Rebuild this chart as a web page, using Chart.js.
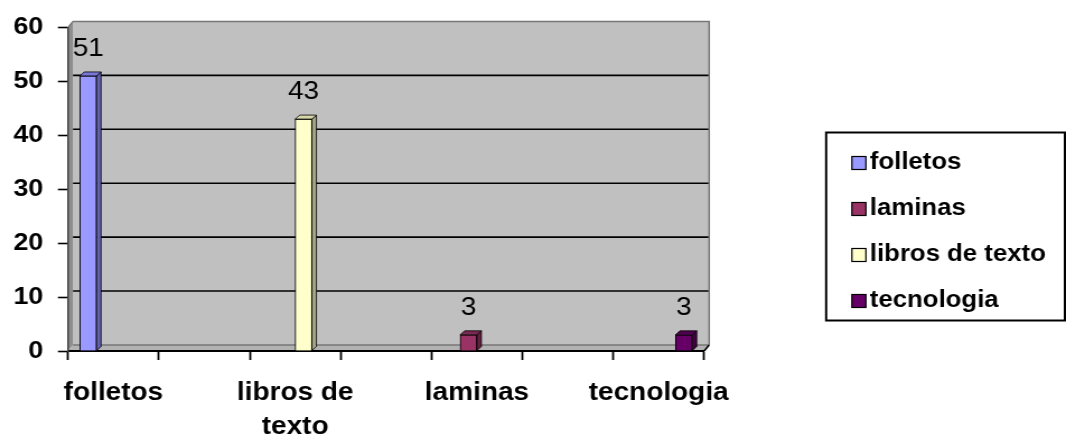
<!DOCTYPE html>
<html>
<head>
<meta charset="utf-8">
<script src="https://cdn.jsdelivr.net/npm/chart.js@4/dist/chart.umd.min.js"></script>
<style>
  html, body { margin: 0; padding: 0; background: #fff; }
</style>
</head>
<body>
<canvas id="mycanvas" width="952" height="437" style="width:1066px;height:437px;display:block"></canvas>
<script>
// categories on the x axis
var categories = ['folletos', 'libros de texto', 'laminas', 'tecnologia'];
// one series per material, each only has a value at its own category
var seriesNames = ['folletos', 'laminas', 'libros de texto', 'tecnologia'];
var folletos = [51, null, null, null];
var laminas = [null, null, 3, null];
var librosDeTexto = [null, 43, null, null];
var tecnologia = [null, null, null, 3];
var yTicks = [0, 10, 20, 30, 40, 50, 60];

var frontColors = ['#9999FF', '#993366', '#FFFFCC', '#660066'];
var sideColors = ['#6262AE', '#66203F', '#A8A888', '#420042'];
var topColors = ['#7878D8', '#7C2852', '#D6D6AA', '#520052'];

var fontFamily = "'Liberation Sans', Arial, sans-serif";
Chart.defaults.font.family = fontFamily;
Chart.defaults.color = '#000';

var WALL_DX = 4.5, WALL_DY = 6;  // depth of the back wall
var BAR_D = 4;                   // depth of each bar

function wrapLabel(s) {
  if (s.length <= 10) return s;
  var k = s.lastIndexOf(' ');
  return [s.slice(0, k), s.slice(k + 1)];
}

// gray 3D wall, floor and gridlines behind everything
var wallPlugin = {
  id: 'wall',
  beforeDraw: function(chart) {
    var a = chart.chartArea, c = chart.ctx, ys = chart.scales.y;
    var L = a.left, R = a.right, T = a.top, B = a.bottom;
    c.save();
    c.fillStyle = '#C0C0C0';
    c.fillRect(L + WALL_DX, T - WALL_DY, R - L, B - T);
    // left side wall
    c.fillStyle = '#8E8E8E';
    c.beginPath();
    c.moveTo(L, T); c.lineTo(L + WALL_DX, T - WALL_DY);
    c.lineTo(L + WALL_DX, B - WALL_DY); c.lineTo(L, B);
    c.closePath(); c.fill();
    // floor
    c.fillStyle = '#B2B2B2';
    c.beginPath();
    c.moveTo(L, B); c.lineTo(L + WALL_DX, B - WALL_DY);
    c.lineTo(R + WALL_DX, B - WALL_DY); c.lineTo(R, B);
    c.closePath(); c.fill();
    // gridlines on the back wall
    c.strokeStyle = '#000';
    c.lineWidth = 1.6;
    yTicks.forEach(function(v) {
      if (v === 0 || v === 60) return;
      var y = ys.getPixelForValue(v) - WALL_DY;
      c.beginPath();
      c.moveTo(L + WALL_DX, y); c.lineTo(R + WALL_DX, y);
      c.stroke();
    });
    // wall edges
    c.strokeStyle = '#777';
    c.lineWidth = 1.5;
    c.beginPath();
    c.moveTo(L, T); c.lineTo(L + WALL_DX, T - WALL_DY);
    c.lineTo(R + WALL_DX, T - WALL_DY); c.lineTo(R + WALL_DX, B - WALL_DY);
    c.stroke();
    c.beginPath();
    c.moveTo(L + WALL_DX, B - WALL_DY); c.lineTo(R + WALL_DX, B - WALL_DY);
    c.stroke();
    c.strokeStyle = '#000';
    c.beginPath();
    c.moveTo(R, B); c.lineTo(R + WALL_DX, B - WALL_DY);
    c.stroke();
    c.restore();
  }
};

// side / top faces of the columns and the value labels
var barPlugin = {
  id: 'bars3d',
  afterDatasetsDraw: function(chart) {
    var c = chart.ctx;
    c.save();
    chart.data.datasets.forEach(function(ds, i) {
      var meta = chart.getDatasetMeta(i);
      meta.data.forEach(function(el, j) {
        if (ds.data[j] === null) return;
        var p = el.getProps(['x', 'y', 'base', 'width'], true);
        var xl = p.x - p.width / 2, xr = p.x + p.width / 2;
        c.lineWidth = 0.8;
        c.strokeStyle = '#000';
        c.fillStyle = sideColors[i];
        c.beginPath();
        c.moveTo(xr, p.y); c.lineTo(xr + BAR_D, p.y - BAR_D);
        c.lineTo(xr + BAR_D, p.base - BAR_D); c.lineTo(xr, p.base);
        c.closePath(); c.fill(); c.stroke();
        c.fillStyle = topColors[i];
        c.beginPath();
        c.moveTo(xl, p.y); c.lineTo(xl + BAR_D, p.y - BAR_D);
        c.lineTo(xr + BAR_D, p.y - BAR_D); c.lineTo(xr, p.y);
        c.closePath(); c.fill(); c.stroke();
        c.fillStyle = '#000';
        c.font = '25px ' + fontFamily;
        c.textAlign = 'center';
        c.textBaseline = 'alphabetic';
        c.fillText(String(ds.data[j]), p.x, p.y - 20);
      });
    });
    c.restore();
  }
};

// frame round the legend, and its colour squares drawn tight to the text
var legendBoxPlugin = {
  id: 'legendBox',
  afterDraw: function(chart) {
    var lg = chart.legend, hb = lg.legendHitBoxes;
    if (!hb || !hb.length) return;
    var c = chart.ctx;
    c.save();
    c.lineWidth = 1.2;
    c.strokeStyle = '#000';
    hb.forEach(function(h, i) {
      var y = h.top + (h.height - 13) / 2;
      c.fillStyle = frontColors[i];
      c.fillRect(h.left, y, 12.5, 13);
      c.strokeRect(h.left, y, 12.5, 13);
    });
    var top = hb[0].top - 19;
    var last = hb[hb.length - 1];
    var bottom = last.top + last.height + 8;
    c.lineWidth = 2;
    c.strokeRect(lg.left, top, chart.width - 1 - lg.left, bottom - top);
    c.restore();
  }
};

var seriesData = [folletos, laminas, librosDeTexto, tecnologia];
var datasets = seriesNames.map(function(name, i) {
  return {
    label: name,
    data: seriesData[i],
    backgroundColor: frontColors[i],
    borderColor: '#000',
    borderWidth: 1,
    barThickness: 15
  };
});

// x positions: every category index, plus tick marks a quarter step either side
var xTickValues = [];
categories.forEach(function(c, i) { xTickValues.push(i - 0.25, i, i + 0.25); });

var ctx = document.getElementById('mycanvas');
var chart = new Chart(ctx, {
  type: 'bar',
  data: {
    labels: categories.map(function(c, i) { return i; }),
    datasets: datasets
  },
  plugins: [wallPlugin, barPlugin, legendBoxPlugin],
  options: {
    responsive: false,
    animation: false,
    devicePixelRatio: 1,
    layout: { padding: { top: 27, right: 8, bottom: 0, left: 0 } },
    plugins: {
      tooltip: { enabled: false },
      legend: {
        position: 'right',
        align: 'center',
        maxWidth: 320,
        labels: {
          boxWidth: 4.5,
          boxHeight: 13,
          padding: 23,
          color: '#000',
          font: { size: 23, weight: 'bold' },
          generateLabels: function(chart) {
            var items = Chart.defaults.plugins.legend.labels.generateLabels(chart);
            items.forEach(function(it) {
              it.fillStyle = 'rgba(0,0,0,0)';
              it.strokeStyle = 'rgba(0,0,0,0)';
              it.lineWidth = 0;
            });
            return items;
          }
        }
      }
    },
    scales: {
      x: {
        type: 'linear',
        min: -0.25,
        max: 3.25,
        offset: false,
        afterBuildTicks: function(s) {
          s.ticks = xTickValues.map(function(v) { return { value: v }; });
        },
        afterFit: function(s) { s.height = 86; },
        grid: {
          offset: false,
          drawOnChartArea: false,
          tickLength: 9,
          tickWidth: 1.8,
          tickColor: function(c) {
            if (!c.tick) return '#000';
            return Number.isInteger(c.tick.value) ? 'rgba(0,0,0,0)' : '#000';
          }
        },
        border: { color: '#000', width: 2 },
        ticks: {
          autoSkip: false,
          maxRotation: 0,
          padding: 16,
          color: '#000',
          font: { size: 25, weight: 'bold', lineHeight: 1.35 },
          callback: function(v) {
            return Number.isInteger(v) ? wrapLabel(categories[v]) : '';
          }
        }
      },
      y: {
        min: 0,
        max: 60,
        afterBuildTicks: function(s) {
          s.ticks = yTicks.map(function(v) { return { value: v }; });
        },
        afterFit: function(s) { s.width = 60.7; },
        grid: { drawOnChartArea: false, tickLength: 9, tickWidth: 1.6, tickColor: '#000' },
        border: { color: '#444', width: 1.5 },
        ticks: {
          padding: 13,
          color: '#000',
          font: { size: 24, weight: 'bold' }
        }
      },
      gap: {
        type: 'linear',
        position: 'right',
        grid: { display: false },
        border: { display: false },
        ticks: { display: false },
        afterFit: function(s) { s.width = 109; }
      }
    }
  }
});
</script>
</body>
</html>
